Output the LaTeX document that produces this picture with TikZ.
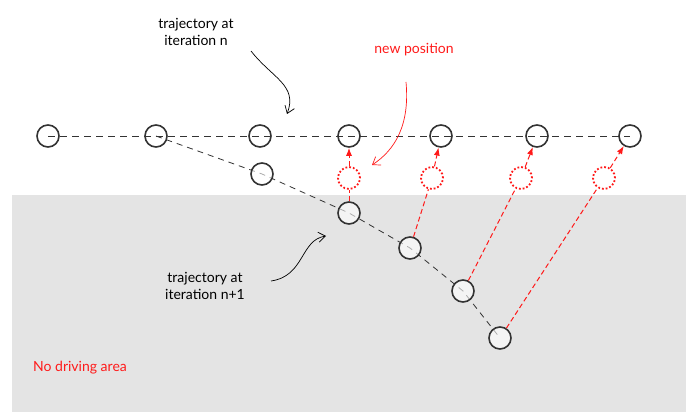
\documentclass[tikz,border=0pt]{standalone}
\usepackage{fontspec}
\setmainfont{Lato}
\usetikzlibrary{arrows.meta}
\definecolor{ink}{HTML}{333333}
\definecolor{zone}{HTML}{E4E4E4}
\definecolor{hot}{HTML}{FF1A1A}
\tikzset{
  waypt/.style={circle, draw=ink, line width=1.6pt, minimum size=22pt, inner sep=0pt},
  wayptfill/.style={waypt, fill=white, fill opacity=0.6},
  ghost/.style={circle, draw=hot, line width=1.8pt, dotted, minimum size=22pt, inner sep=0pt, fill=white},
  traj/.style={ink, line width=0.9pt, dash pattern=on 7pt off 5pt},
  trajnew/.style={ink, line width=0.8pt, dash pattern=on 6pt off 5pt},
  move/.style={hot, line width=1pt, dash pattern=on 5pt off 3pt, -{Latex[length=8pt,width=6pt]}},
  movetail/.style={hot, line width=1pt, dash pattern=on 5pt off 3pt},
  note/.style={font=\fontsize{14}{16.5}\selectfont, align=center, inner sep=0pt},
  pointer/.style={line width=0.7pt, -{Straight Barb[length=7pt,width=10pt]}}
}
\begin{document}
\begin{tikzpicture}[x=1pt,y=-1pt]
\useasboundingbox (0,0) rectangle (686,412);
% no-driving zone
\fill[zone] (12,195) rectangle (686,412);
\node[note, text=hot, anchor=west] (nda) at (33,368) {No driving area};

% trajectory at iteration n
\coordinate (t1) at (48,136);
\coordinate (t2) at (156,136);
\coordinate (t3) at (260,136);
\coordinate (t4) at (349,136);
\coordinate (t5) at (441,136);
\coordinate (t6) at (537,136);
\coordinate (t7) at (630,136);
\draw[traj] (t1) -- (t7);
\foreach \i in {1,...,7} \node[waypt] (p\i) at (t\i) {};

% trajectory at iteration n+1
\coordinate (d1) at (262,174);
\coordinate (d2) at (349,213);
\coordinate (d3) at (410,248);
\coordinate (d4) at (463,291);
\coordinate (d5) at (500,338);
\draw[trajnew] (t2) -- (d1) -- (d2) -- (d3) -- (d4) -- (d5);
\foreach \i in {1,...,5} \node[wayptfill] (q\i) at (d\i) {};

% candidate positions
\node[ghost] (g1) at (349,178) {};
\node[ghost] (g2) at (432,178) {};
\node[ghost] (g3) at (521,178) {};
\node[ghost] (g4) at (604,178) {};

\draw[movetail] (q2) -- (g1);
\draw[movetail] (q3) -- (g2);
\draw[movetail] (q4) -- (g3);
\draw[movetail] (q5) -- (g4);
\draw[move] (g1) -- (p4);
\draw[move] (g2) -- (p5);
\draw[move] (g3) -- (p6);
\draw[move] (g4) -- (p7);

% annotations
\node[note] (lbln) at (196,32) {trajectory at\\iteration n};
\coordinate (an0) at (251,51);
\coordinate (an1) at (287,114);
\draw[pointer] (an0) .. controls (272,78) and (298,85) .. (an1);

\node[note, text=hot] (lblp) at (414,50) {new position};
\coordinate (ap0) at (406,82);
\coordinate (ap1) at (372,165);
\draw[pointer, hot] (ap0) .. controls (410,125) and (395,150) .. (ap1);

\node[note] (lbln1) at (205,286) {trajectory at\\iteration n+1};
\coordinate (am0) at (271,281);
\coordinate (am1) at (326,236);
\draw[pointer] (am0) .. controls (305,276) and (300,240) .. (am1);
\end{tikzpicture}
\end{document}
